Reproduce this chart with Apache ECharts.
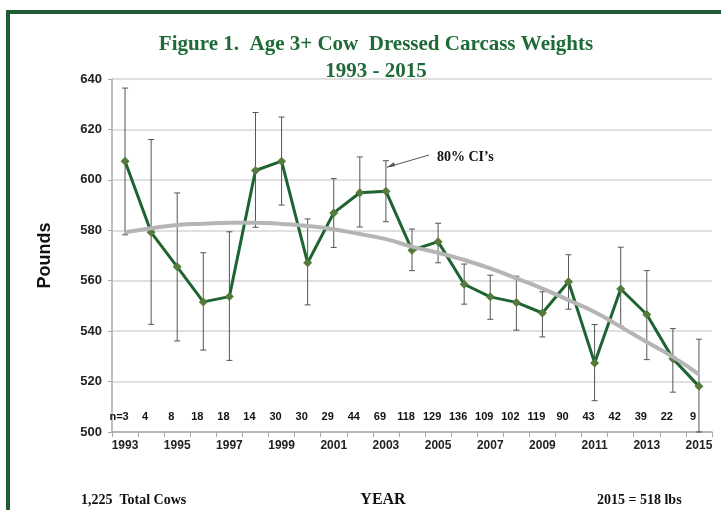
<!DOCTYPE html>
<html>
<head>
<meta charset="utf-8">
<script src="https://cdn.jsdelivr.net/npm/echarts@6/dist/echarts.min.js"></script>
<style>
  html, body { margin: 0; padding: 0; background: #fff; }
  #chart { width: 721px; height: 510px; }
</style>
</head>
<body>
<div id="chart"></div>
<script>
// values
const years = ['1993', '1994', '1995', '1996', '1997', '1998', '1999', '2000', '2001', '2002', '2003', '2004',
    '2005', '2006', '2007', '2008', '2009', '2010', '2011', '2012', '2013', '2014', '2015'];
const meanWeight = [607.4, 579.2, 565.5, 551.6, 553.7, 603.7, 607.4, 567.1, 586.9, 594.9, 595.5, 572.1,
    575.5, 558.6, 553.6, 551.4, 547.2, 559.6, 527.4, 556.7, 546.6, 529.1, 518.1];
const ciUpper = [636.4, 616.0, 594.8, 571.1, 579.4, 626.7, 624.9, 584.5, 600.5, 609.1, 607.6, 580.5,
    582.8, 566.6, 562.2, 561.8, 555.6, 570.3, 542.6, 573.3, 564.0, 541.0, 536.8];
const ciLower = [578.2, 542.7, 536.1, 532.5, 528.4, 581.2, 590.0, 550.4, 573.2, 581.3, 583.4, 564.0,
    567.1, 550.7, 544.7, 540.4, 537.7, 548.7, 512.4, 542.0, 528.7, 515.8, 500.0];
const trend = [579.2, 580.8, 582.1, 582.6, 583.0, 583.0, 582.5, 581.7, 580.4, 578.5, 576.5, 573.5,
    571.1, 568.2, 564.9, 560.9, 556.9, 552.3, 547.6, 541.7, 535.7, 529.8, 522.9];
const cowCounts = [3, 4, 8, 18, 18, 14, 30, 30, 29, 44, 69, 118, 129, 136, 109, 102, 119, 90, 43, 42, 39, 22, 9];
const yTicks = { min: 500, max: 640, step: 20 };
const countRowY = 506;

const green = '#1f5c36';
const serif = '"Liberation Serif", "Times New Roman", serif';
const sans = '"Liberation Sans", Arial, sans-serif';

const chart = echarts.init(document.getElementById('chart'));

const options = {
    animation: false,
    backgroundColor: '#fff',
    title: {
        text: 'Figure 1.  Age 3+ Cow  Dressed Carcass Weights\n1993 - 2015',
        left: 371,
        top: 26,
        textAlign: 'center',
        textStyle: {
            fontFamily: serif,
            fontWeight: 'bold',
            fontSize: 21,
            lineHeight: 27,
            color: '#1f6b38'
        }
    },
    grid: { left: 112, right: 9, top: 79, bottom: 78 },
    xAxis: {
        type: 'category',
        data: years,
        boundaryGap: true,
        axisLine: { lineStyle: { color: '#a8a8a8', width: 1.5 } },
        axisTick: { show: true, interval: 0, length: 5, lineStyle: { color: '#a8a8a8' } },
        axisLabel: {
            interval: 1,
            margin: 8,
            color: '#222',
            fontFamily: sans,
            fontWeight: 'bold',
            fontSize: 12
        }
    },
    yAxis: {
        type: 'value',
        min: yTicks.min,
        max: yTicks.max,
        interval: yTicks.step,
        name: 'Pounds',
        nameLocation: 'middle',
        nameGap: 58,
        nameTextStyle: { fontFamily: sans, fontWeight: 'bold', fontSize: 18, color: '#111' },
        axisLine: { show: true, lineStyle: { color: '#a8a8a8', width: 1.5 } },
        axisTick: { show: true, length: 4, lineStyle: { color: '#a8a8a8' } },
        splitLine: { lineStyle: { color: '#d6d6d6', width: 1.5 } },
        axisLabel: { margin: 10, color: '#222', fontFamily: sans, fontWeight: 'bold', fontSize: 13 }
    },
    series: [
        {
            name: 'CI',
            type: 'custom',
            z: 2,
            data: years.map(function (y, i) { return [i, ciLower[i], ciUpper[i]]; }),
            renderItem: function (params, api) {
                const lo = api.coord([api.value(0), api.value(1)]);
                const hi = api.coord([api.value(0), api.value(2)]);
                const cap = 3;
                const style = { stroke: '#555', lineWidth: 1 };
                return {
                    type: 'group',
                    children: [
                        { type: 'line', shape: { x1: hi[0], y1: hi[1], x2: lo[0], y2: lo[1] }, style: style },
                        { type: 'line', shape: { x1: hi[0] - cap, y1: hi[1], x2: hi[0] + cap, y2: hi[1] }, style: style },
                        { type: 'line', shape: { x1: lo[0] - cap, y1: lo[1], x2: lo[0] + cap, y2: lo[1] }, style: style }
                    ]
                };
            }
        },
        {
            name: 'Mean',
            type: 'line',
            z: 3,
            data: meanWeight,
            symbol: 'diamond',
            symbolSize: 9,
            lineStyle: { color: '#1e6430', width: 3 },
            itemStyle: { color: '#557a3c' }
        },
        {
            name: 'Trend',
            type: 'line',
            z: 4,
            data: trend,
            smooth: true,
            symbol: 'none',
            lineStyle: { color: '#b5b5b5', width: 4 }
        },
        {
            name: 'n',
            type: 'scatter',
            z: 5,
            symbolSize: 0,
            itemStyle: { opacity: 1 },
            data: cowCounts.map(function (n, i) { return [i, countRowY]; }),
            label: {
                show: true,
                position: 'inside',
                offset: [-6, 0],
                opacity: 1,
                formatter: function (p) {
                    const n = cowCounts[p.dataIndex];
                    return p.dataIndex === 0 ? 'n=' + n : String(n);
                },
                color: '#111',
                fontFamily: sans,
                fontWeight: 'bold',
                fontSize: 11
            }
        }
    ]
};
chart.setOption(options);

// annotation and footer texts
const arrowEnd = chart.convertToPixel({ gridIndex: 0 }, [10, 605]);
chart.setOption({
    graphic: [
        {
            type: 'rect',
            shape: { x: 8, y: 12, width: 730, height: 520 },
            style: { fill: 'none', stroke: green, lineWidth: 4 },
            silent: true
        },
        {
            type: 'line',
            shape: { x1: 429, y1: 155, x2: arrowEnd[0] + 1, y2: arrowEnd[1] },
            style: { stroke: '#555', lineWidth: 1 }
        },
        {
            type: 'polygon',
            shape: {
                points: [
                    [arrowEnd[0] + 1, arrowEnd[1]],
                    [arrowEnd[0] + 8, arrowEnd[1] - 5],
                    [arrowEnd[0] + 9, arrowEnd[1] - 1]
                ]
            },
            style: { fill: '#555' }
        },
        {
            type: 'text',
            x: 437, y: 157,
            style: { text: '80% CI\u2019s', fontFamily: serif, fontWeight: 'bold', fontSize: 14, fill: '#111', verticalAlign: 'middle' }
        },
        {
            type: 'text',
            x: 81, y: 500,
            style: { text: '1,225  Total Cows', fontFamily: serif, fontWeight: 'bold', fontSize: 14, fill: '#111', verticalAlign: 'middle' }
        },
        {
            type: 'text',
            x: 383, y: 500,
            style: { text: 'YEAR', fontFamily: serif, fontWeight: 'bold', fontSize: 16, fill: '#111', align: 'center', verticalAlign: 'middle' }
        },
        {
            type: 'text',
            x: 597, y: 500,
            style: { text: '2015 = 518 lbs', fontFamily: serif, fontWeight: 'bold', fontSize: 14, fill: '#111', verticalAlign: 'middle' }
        }
    ]
});
</script>
</body>
</html>
